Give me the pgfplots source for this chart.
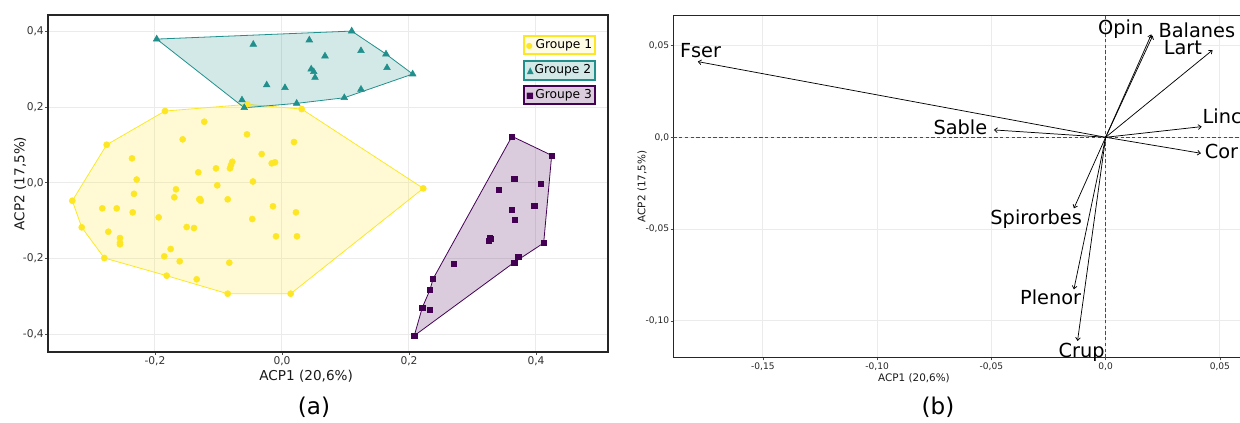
\documentclass[border=0pt]{standalone}
\usepackage{fontspec}
\setmainfont{DejaVu Sans}
\usepackage{pgfplots}
\pgfplotsset{compat=1.18}
\usetikzlibrary{arrows.meta}
\definecolor{gA}{HTML}{FDE725}
\definecolor{gB}{HTML}{21908C}
\definecolor{gC}{HTML}{440154}
\definecolor{gridc}{HTML}{EBEBEB}
\begin{document}
\begin{tikzpicture}
% ---------------- panel (a)
\begin{axis}[name=a, at={(36pt,53.25pt)}, anchor=south west, scale only axis,
  width=420pt, height=252.75pt,
  xmin=-0.3685, xmax=0.5134, ymin=-0.447, ymax=0.443,
  xtick={-0.2,0,0.2,0.4}, xticklabels={{-0,2},{0,0},{0,2},{0,4}},
  ytick={-0.4,-0.2,0,0.2,0.4}, yticklabels={{-0,4},{-0,2},{0,0},{0,2},{0,4}},
  grid=major, major grid style={gridc, line width=0.75pt},
  tick align=outside, tick pos=left, major tick length=2pt,
  tick style={black!70, line width=0.6pt},
  axis line style={black!85, line width=0.9pt},
  ticklabel style={font=\fontsize{8}{9}\selectfont, text=black!80},
  xticklabel style={inner sep=1.5pt}, yticklabel style={inner sep=1pt},
  xlabel={ACP1 (20,6\%)}, ylabel={ACP2 (17,5\%)},
  label style={font=\fontsize{10.2}{12}\selectfont, text=black!90},
  xlabel style={at={(axis description cs:0.461,-0.0852)}, anchor=base},
  ylabel style={at={(axis description cs:-0.05,0.5)}, anchor=center},
  clip=false]
% hulls
\addplot[draw=gA, line width=0.6pt, fill=gA, fill opacity=0.2] coordinates {
 (-0.2761,0.1003) (-0.1843,0.1893) (-0.0546,0.2070) (0.0310,0.1946) (0.2225,-0.0148)
 (0.0137,-0.2931) (-0.0855,-0.2931) (-0.1816,-0.2455) (-0.2798,-0.1988) (-0.3154,-0.1178)
 (-0.3302,-0.0475)} -- cycle;
\addplot[draw=gB, line width=0.6pt, fill=gB, fill opacity=0.2] coordinates {
 (-0.1973,0.3794) (0.1098,0.4005) (0.1638,0.3398) (0.2058,0.2870) (0.0981,0.2244)
 (0.0231,0.2096) (-0.0594,0.1980)} -- cycle;
\addplot[draw=gC, line width=0.6pt, fill=gC, fill opacity=0.2] coordinates {
 (0.3622,0.1225) (0.4247,0.0723) (0.4121,-0.1592) (0.3658,-0.2102) (0.2083,-0.4040)
 (0.2209,-0.3300) (0.2331,-0.2825) (0.2378,-0.2543)} -- cycle;
% points group 1
\addplot[only marks, mark=*, mark size=2.3pt, gA] coordinates {
 (-0.2761,0.1003) (-0.1843,0.1893) (-0.0546,0.2070) (0.0310,0.1946) (0.2225,-0.0148)
 (0.0137,-0.2931) (-0.0855,-0.2931) (-0.1816,-0.2455) (-0.2798,-0.1988) (-0.3154,-0.1178)
 (-0.3302,-0.0475)
 (-0.1224,0.1611) (-0.1564,0.1146) (-0.0551,0.1278) (0.0189,0.1075) (-0.2362,0.0644)
 (-0.0320,0.0758) (-0.0783,0.0554) (-0.0803,0.0467) (-0.0819,0.0380) (-0.0162,0.0512)
 (-0.0110,0.0539) (-0.1039,0.0380) (-0.1318,0.0275) (-0.2288,0.0084) (-0.0457,0.0032)
 (-0.1019,-0.0069) (-0.2331,-0.0293) (-0.1669,-0.0174) (-0.1696,-0.0385) (-0.1302,-0.0438)
 (-0.1280,-0.0475) (-0.1291,-0.0430) (-0.0855,-0.0438) (-0.2830,-0.0676) (-0.2603,-0.0676)
 (-0.2351,-0.0782) (-0.0142,-0.0623) (0.0220,-0.0782) (-0.1942,-0.0914) (-0.0468,-0.0958)
 (-0.1501,-0.1170) (-0.1386,-0.1196) (-0.2735,-0.1294) (-0.2551,-0.1460) (-0.2551,-0.1584)
 (-0.2551,-0.1627) (-0.0094,-0.1415) (0.0236,-0.1415) (-0.1753,-0.1750) (-0.1854,-0.1943)
 (-0.1611,-0.2075) (-0.0830,-0.2112) (-0.1343,-0.2550)};
% points group 2
\addplot[only marks, mark=triangle*, mark size=2.9pt, gB] coordinates {
 (-0.1973,0.3794) (-0.0452,0.3654) (0.0430,0.3768) (0.0460,0.3000) (0.0500,0.2930)
 (0.0520,0.2778) (-0.0241,0.2580) (0.0047,0.2508) (-0.0630,0.2184) (0.0231,0.2096)
 (-0.0594,0.1980) (0.1098,0.4005) (0.1244,0.3485) (0.0677,0.3345) (0.1638,0.3398)
 (0.1654,0.3036) (0.2058,0.2870) (0.1244,0.2466) (0.0981,0.2244)};
% points group 3
\addplot[only marks, mark=square*, mark size=1.9pt, gC] coordinates {
 (0.3622,0.1225) (0.4247,0.0723) (0.3658,0.0098) (0.4074,-0.0029) (0.3413,-0.0185)
 (0.3973,-0.0615) (0.3617,-0.0713) (0.3669,-0.0985) (0.3276,-0.1442) (0.3249,-0.1539)
 (0.3291,-0.1473) (0.4121,-0.1592) (0.3721,-0.1962) (0.3658,-0.2102) (0.2704,-0.2128)
 (0.2378,-0.2543) (0.2331,-0.2825) (0.2209,-0.3300) (0.2326,-0.3353) (0.2083,-0.4040)};
% legend
\node[draw=gA, line width=1.5pt, fill=gA!12, inner sep=0pt, minimum width=53.25pt,
  minimum height=14pt, font=\fontsize{9.2}{10}\selectfont]
  at (axis description cs:0.9125,0.911)
  {{\fontsize{6}{6}\selectfont\color{gA}●}\hspace{2pt}Groupe 1};
\node[draw=gB, line width=1.5pt, fill=gB!20, inner sep=0pt, minimum width=53.25pt,
  minimum height=14pt, font=\fontsize{9.2}{10}\selectfont]
  at (axis description cs:0.9125,0.836)
  {{\fontsize{6.8}{7}\selectfont\color{gB}▲}\hspace{0.5pt}Groupe 2};
\node[draw=gC, line width=1.5pt, fill=gC!20, inner sep=0pt, minimum width=53.25pt,
  minimum height=14pt, font=\fontsize{9.2}{10}\selectfont]
  at (axis description cs:0.9125,0.7626)
  {{\fontsize{6.2}{7}\selectfont\color{gC}■}\hspace{1pt}Groupe 3};
\end{axis}
% ---------------- panel (b)
\begin{axis}[name=b, at={(505pt,49pt)}, anchor=south west, scale only axis,
  width=425pt, height=256.6pt,
  xmin=-0.1892, xmax=0.0588, ymin=-0.1200, ymax=0.0663,
  axis x line*=box, axis y line*=left,
  xtick={-0.15,-0.10,-0.05,0,0.05}, xticklabels={{-0,15},{-0,10},{-0,05},{0,0},{0,05}},
  ytick={-0.10,-0.05,0,0.05}, yticklabels={{-0,10},{-0,05},{0,0},{0,05}},
  grid=major, major grid style={gridc, line width=0.75pt},
  tick align=outside, tick pos=left, major tick length=2pt,
  tick style={black!70, line width=0.6pt},
  axis line style={black!85, line width=0.9pt},
  ticklabel style={font=\fontsize{6.8}{8}\selectfont, text=black!85},
  xticklabel style={inner sep=1.5pt}, yticklabel style={inner sep=1pt},
  xlabel={ACP1 (20,6\%)}, ylabel={ACP2 (17,5\%)},
  label style={font=\fontsize{7.8}{9}\selectfont, text=black!90},
  xlabel style={at={(axis description cs:0.4247,-0.0701)}, anchor=base},
  ylabel style={at={(axis description cs:-0.0552,0.5)}, anchor=center},
  clip=false]
\addplot[black!70, dashed, line width=0.75pt, dash pattern=on 2.5pt off 1.8pt]
  coordinates {(-0.1892,0) (0.0588,0)};
\addplot[black!70, dashed, line width=0.75pt, dash pattern=on 2.5pt off 1.8pt]
  coordinates {(0,-0.1200) (0,0.0663)};
\pgfplotsset{arr/.style={black, line width=0.55pt, -{Straight Barb[length=2.2pt,width=3.6pt]}}}
\addplot[arr] coordinates {(0,0) (-0.1785,0.0412)};
\addplot[arr] coordinates {(0,0) (-0.0489,0.0040)};
\addplot[arr] coordinates {(0,0) (0.0200,0.0560)};
\addplot[arr] coordinates {(0,0) (0.0206,0.0553)};
\addplot[arr] coordinates {(0,0) (0.0468,0.0475)};
\addplot[arr] coordinates {(0,0) (0.0420,0.0058)};
\addplot[arr] coordinates {(0,0) (0.0417,-0.0087)};
\addplot[arr] coordinates {(0,0) (-0.0139,-0.0387)};
\addplot[arr] coordinates {(0,0) (-0.0139,-0.0828)};
\addplot[arr] coordinates {(0,0) (-0.0123,-0.1109)};
\tikzset{lab/.style={anchor=base, inner sep=0pt, font=\fontsize{14.5}{16}\selectfont}}
\node[lab] at (axis cs:-0.1773,0.0436) {Fser};
\node[lab] at (axis cs:-0.0636,0.0016) {Sable};
\node[lab] at (axis cs:0.0066,0.0557) {Opin};
\node[lab] at (axis cs:0.0399,0.0542) {Balanes};
\node[lab] at (axis cs:0.0338,0.0452) {Lart};
\node[lab] at (axis cs:0.0510,0.0076) {Linc};
\node[lab] at (axis cs:0.0507,-0.0114) {Cor};
\node[lab] at (axis cs:-0.0304,-0.0474) {Spirorbes};
\node[lab] at (axis cs:-0.0241,-0.0908) {Plenor};
\node[lab] at (axis cs:-0.0105,-0.1198) {Crup};
\end{axis}
\node[anchor=base, font=\fontsize{17.3}{20}\selectfont] at (235.5pt,6.5pt) {(a)};
\node[anchor=base, font=\fontsize{17.3}{20}\selectfont] at (703.5pt,6.5pt) {(b)};
\pgfresetboundingbox
\path[use as bounding box] (0,0) rectangle (930pt,317.25pt);
\end{tikzpicture}
\end{document}
